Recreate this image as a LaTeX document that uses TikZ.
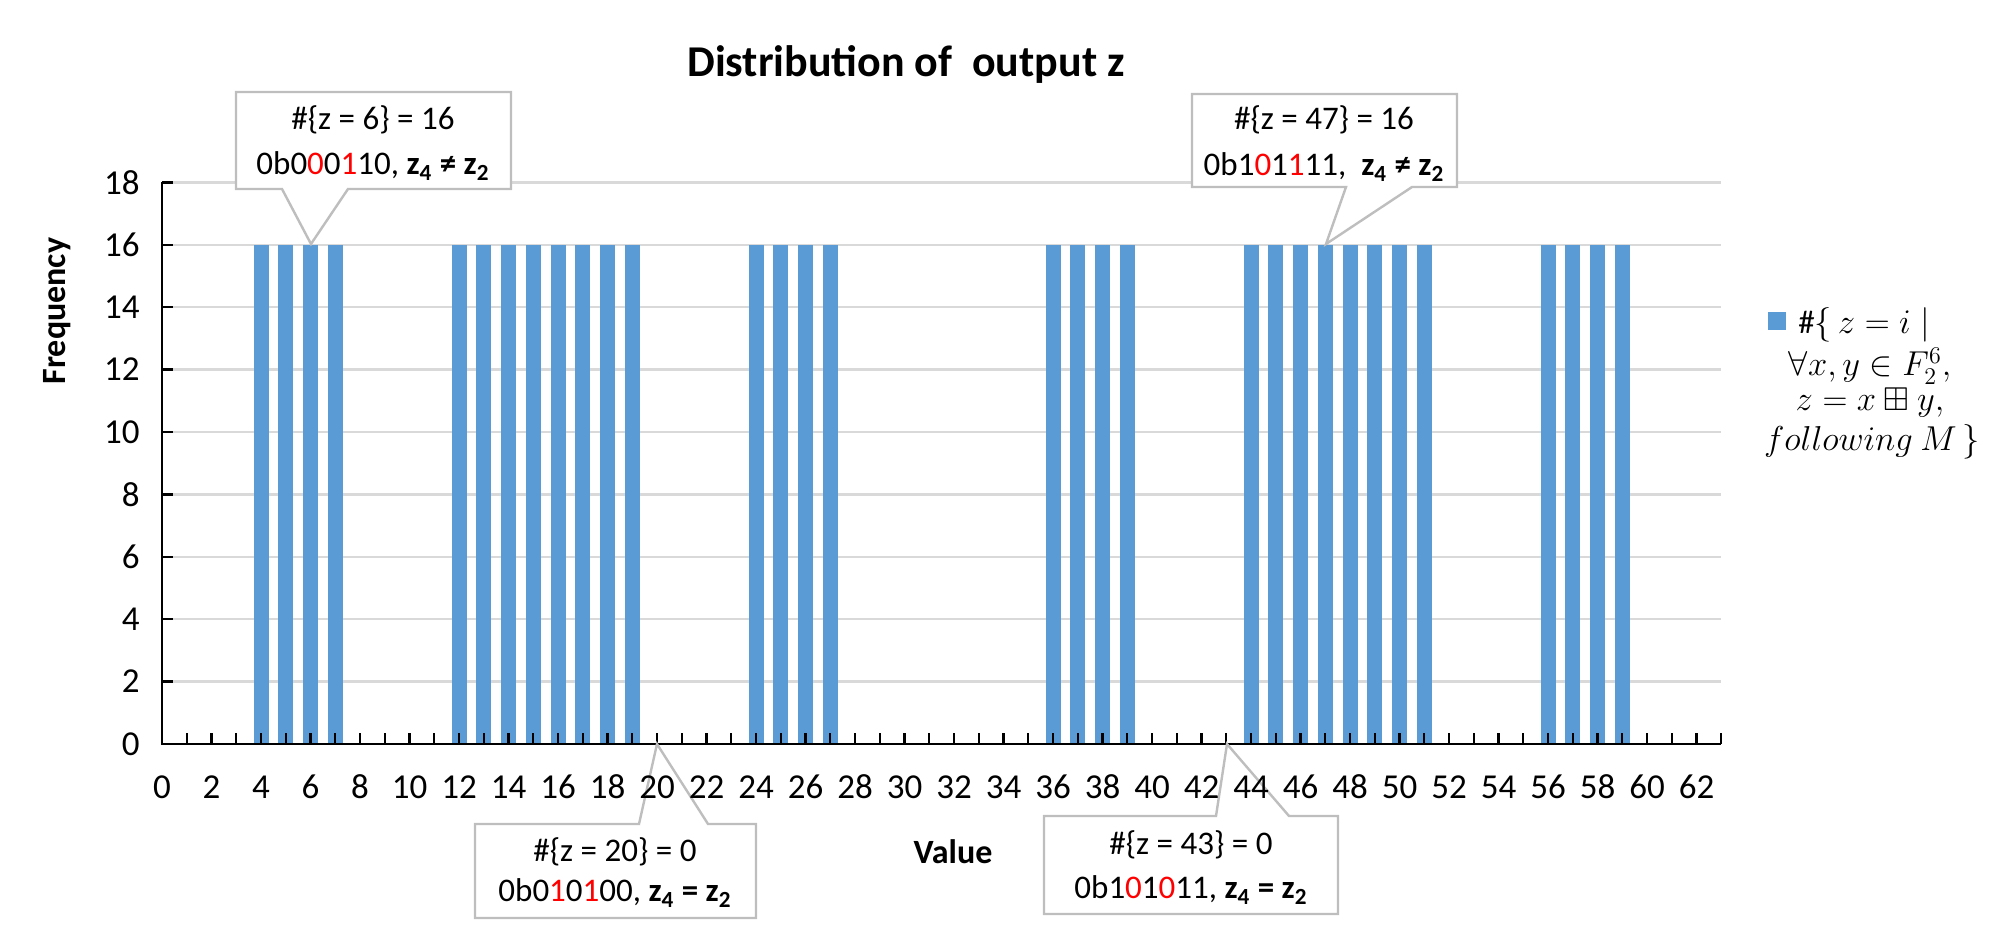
\documentclass[tikz,border=0pt]{standalone}
\usepackage{amsmath}
\usepackage{amssymb}
\usepackage{fontspec}
\setmainfont{Carlito}
\usetikzlibrary{positioning}
\definecolor{barblue}{RGB}{91,155,213}
\definecolor{gridgray}{RGB}{217,217,217}
\definecolor{boxgray}{RGB}{190,190,190}
\newcommand{\rd}[1]{\textcolor{red}{#1}}
\newcommand{\zz}[1]{\textbf{z\textsubscript{#1}}}
\begin{document}
\begin{tikzpicture}[x=0.5pt,y=-0.5pt,line join=miter]
\tikzset{every node/.style={inner sep=0pt},
  ticklabel/.style={font=\fontsize{17.5}{20}\selectfont},
  callout/.style={draw=boxgray,line width=1.2pt,fill=white},
  calltext/.style={font=\fontsize{16.5}{19}\selectfont}}
\useasboundingbox (0,0) rectangle (1993,946);
% gridlines and y labels
\foreach \y in {0,2,...,18}{
  \ifnum\y>0 \draw[gridgray,line width=1.2pt] (162,{744-31.2*\y}) -- (1721,{744-31.2*\y}); \fi
  \draw[line width=1.2pt] (162,{744-31.2*\y}) -- (173,{744-31.2*\y});
  \node[ticklabel,anchor=east] (yl\y) at (140,{744-31.2*\y}) {\y};
}
% bars
\foreach \v in {4,5,6,7,12,13,...,19,24,25,26,27,36,37,38,39,44,45,...,51,56,57,58,59}
  \fill[barblue] ({162+24.75*\v-7.5},245) rectangle ({162+24.75*\v+7.5},744);
% x axis
\foreach \v in {1,...,63}
  \draw[line width=1.2pt] ({162+24.75*\v},744) -- ({162+24.75*\v},733);
\draw[line width=1.4pt] (162,182) -- (162,744) -- (1721,744);
% titles
\node[font=\fontsize{22}{26}\selectfont\bfseries] (title) at (906,64) {Distribution of \ output z};
\node[font=\fontsize{17}{20}\selectfont\bfseries,rotate=90] (ytitle) at (57,311) {Frequency};
\node[font=\fontsize{17}{20}\selectfont\bfseries] (xtitle) at (953,852) {Value};
% callouts
\draw[callout] (236,92) -- (511,92) -- (511,189) -- (348,189) -- (311,244) -- (282,189) -- (236,189) -- cycle;
\node[calltext] (c6a) at (373,120) {\#\{z = 6\} = 16};
\node[calltext] (c6b) at (373,166) {0b0\rd{0}0\rd{1}10, \zz{4} \textbf{≠} \zz{2}};
\draw[callout] (1192,94) -- (1457,94) -- (1457,187) -- (1412,187) -- (1326,244) -- (1346,187) -- (1192,187) -- cycle;
\node[calltext] (c47a) at (1324,120) {\#\{z = 47\} = 16};
\node[calltext] (c47b) at (1324,167) {0b1\rd{0}1\rd{1}11, \ \zz{4} \textbf{≠} \zz{2}};
\draw[callout] (475,824) -- (639,824) -- (657,744) -- (708,824) -- (756,824) -- (756,918) -- (475,918) -- cycle;
\node[calltext] (c20a) at (615,852) {\#\{z = 20\} = 0};
\node[calltext] (c20b) at (615,893) {0b0\rd{1}0\rd{1}00, \zz{4} \textbf{=} \zz{2}};
\draw[callout] (1044,816) -- (1216,816) -- (1227,744) -- (1289,816) -- (1338,816) -- (1338,914) -- (1044,914) -- cycle;
\node[calltext] (c43a) at (1191,845) {\#\{z = 43\} = 0};
\node[calltext] (c43b) at (1191,890) {0b1\rd{0}1\rd{0}11, \zz{4} \textbf{=} \zz{2}};
% x labels on top of the pointers
\foreach \v in {0,2,...,62}
  \node[ticklabel] (xl\v) at ({162+24.75*\v},787) {\v};
% legend
\fill[barblue] (1768,312) rectangle (1786,330);
\node[font=\fontsize{16.5}{20}\selectfont,anchor=west] (leg1) at (1798,325) {$\#\{\,z=i\mid$};
\node[font=\fontsize{16.5}{20}\selectfont] (leg2) at (1870,366) {$\forall x,y\in F_2^6,$};
\node[font=\fontsize{16.5}{20}\selectfont] (leg3) at (1870,403) {$z=x\boxplus y,$};
\node[font=\fontsize{16.5}{20}\selectfont] (leg4) at (1872,442) {$following\ M\,\}$};
\end{tikzpicture}
\end{document}
